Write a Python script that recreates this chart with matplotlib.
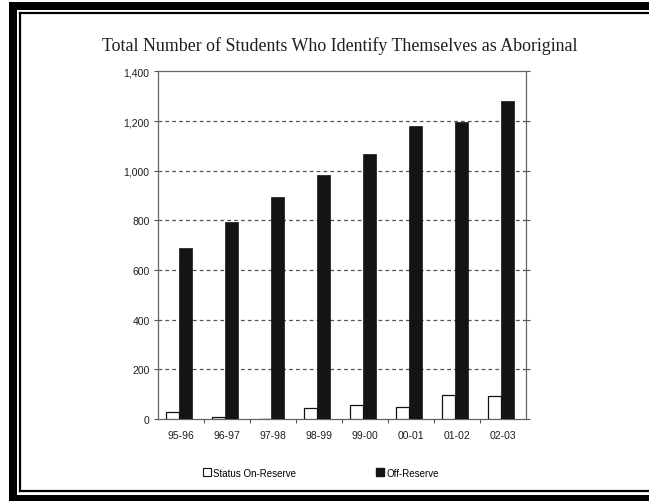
import numpy as np
import matplotlib.pyplot as plt
from matplotlib.patches import Rectangle
from matplotlib.lines import Line2D

# school years and counts
years = ['95-96', '96-97', '97-98', '98-99', '99-00', '00-01', '01-02', '02-03']
on_reserve = [30, 8, 0, 45, 57, 47, 96, 93]
off_reserve = [690, 795, 895, 985, 1068, 1180, 1198, 1283]
y_ticks = [0, 200, 400, 600, 800, 1000, 1200, 1400]

title = 'Total Number of Students Who Identify Themselves as Aboriginal'

fig = plt.figure(figsize=(6.49, 5.02), dpi=100)
fig.patch.set_facecolor('white')

# scanned page frame, drawn in pixel coordinates
frame = fig.add_axes([0, 0, 1, 1], zorder=0)
frame.set_xlim(0, 649)
frame.set_ylim(502, 0)
frame.axis('off')
frame.add_patch(Rectangle((9, 3), 8, 499, color='black', lw=0))
frame.add_patch(Rectangle((9, 3), 640, 8, color='black', lw=0))
frame.add_patch(Rectangle((9, 496), 640, 6, color='black', lw=0))
frame.add_line(Line2D([20, 20], [13.5, 492], color='black', lw=1.6))
frame.add_line(Line2D([20, 649], [13.5, 13.5], color='black', lw=1.6))
frame.add_line(Line2D([20, 649], [492, 492], color='black', lw=1.6))

ax = fig.add_axes([0.2435, 0.1633, 0.567, 0.6923], zorder=1)

x = np.arange(len(years))
w = 0.29
shift = -0.045
ax.bar(x + shift - w, on_reserve, width=w, align='edge', color='white',
       edgecolor='#111111', lw=0.9, label='Status On-Reserve', zorder=3)
ax.bar(x + shift, off_reserve, width=w, align='edge', color='#141414',
       edgecolor='#141414', lw=0.5, label='Off-Reserve', zorder=3)

ax.set_xlim(-0.5, len(years) - 0.5)
ax.set_ylim(0, 1400)
ax.set_yticks(y_ticks)
ax.set_yticklabels([f'{v:,}' for v in y_ticks])
ax.set_xticks(x)
ax.set_xticklabels(years)
ax.set_xticks(np.arange(0.5, len(years) - 0.5, 1), minor=True)

ax.tick_params(axis='x', which='major', length=0, pad=8, labelsize=7.5,
               labelcolor='#1e1e1e')
ax.tick_params(axis='x', which='minor', length=3, width=0.8, color='#555555')
ax.tick_params(axis='y', length=3, width=0.8, color='#555555', pad=3,
               labelsize=7.5, labelcolor='#1e1e1e', right=True)

for yv in y_ticks[1:-1]:
    ax.axhline(yv, color='#555555', lw=0.9, ls=(0, (3, 2.5)), zorder=1)

for s in ax.spines.values():
    s.set_color('#666666')
    s.set_linewidth(0.9)

for lbl in ax.get_xticklabels() + ax.get_yticklabels():
    lbl.set_family('Liberation Sans')
    lbl.set_fontweight('medium')

fig.text(0.523, 0.908, title, ha='center', va='center',
         family='Liberation Serif', fontsize=12.9, color='#1e1e1e')

h1 = Line2D([], [], marker='s', ls='none', markersize=5.5,
            markerfacecolor='white', markeredgecolor='#111111', markeredgewidth=0.8)
h2 = Line2D([], [], marker='s', ls='none', markersize=5.5,
            markerfacecolor='#141414', markeredgecolor='#141414')
fig.legend([h1, h2], ['Status On-Reserve', 'Off-Reserve'], loc='center',
           bbox_to_anchor=(0.495, 0.056), ncol=2, frameon=False,
           handlelength=0.6, handletextpad=0.35, columnspacing=8.3,
           prop={'family': 'Liberation Sans', 'size': 7})

fig.savefig('out.png', dpi=100)
